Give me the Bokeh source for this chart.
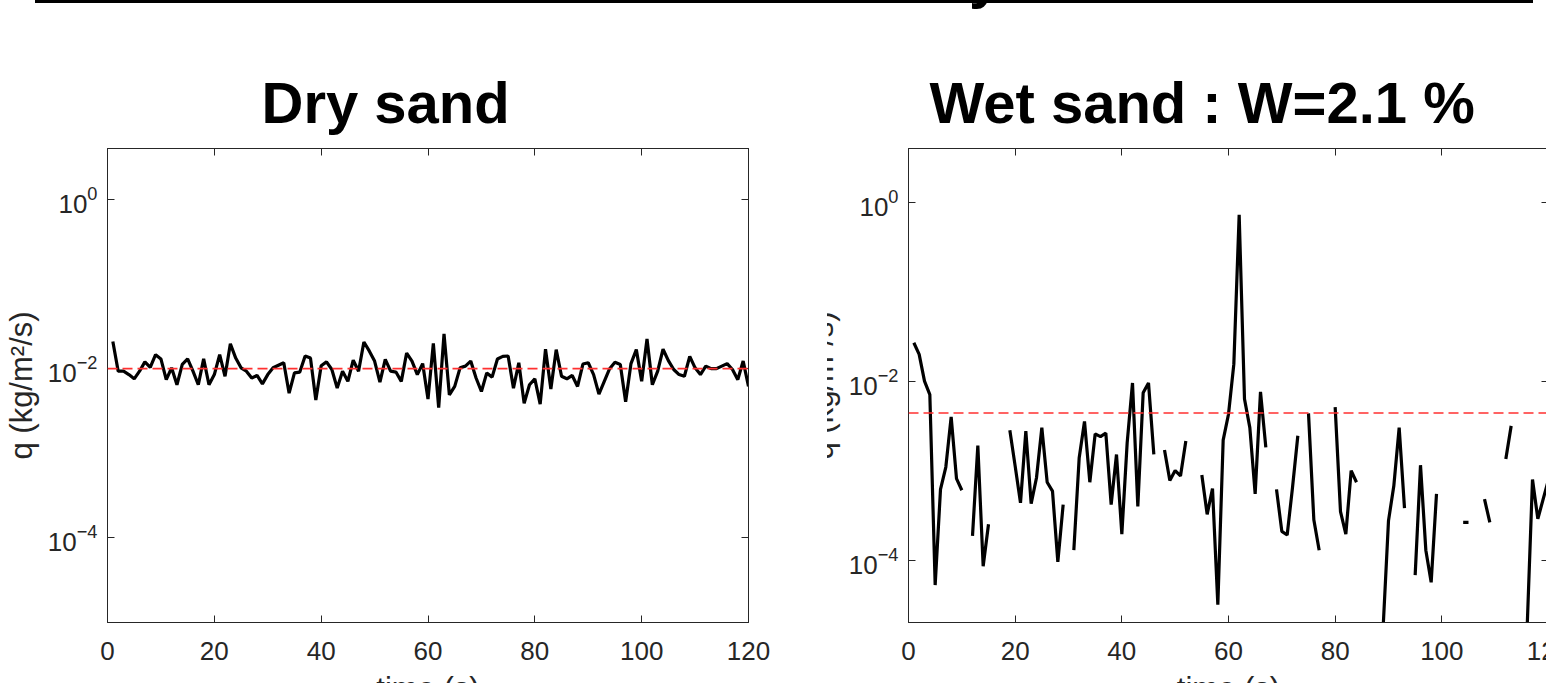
import math
from bokeh.embed import file_html
from bokeh.layouts import column, row
from bokeh.models import (Div, FixedTicker, GlobalInlineStyleSheet, LinearAxis, LogAxis,
                          Range1d, Span)
from bokeh.plotting import figure
from bokeh.resources import INLINE

# ---------------- data ----------------
time_s = list(range(1, 121))

# log10 of q (kg/m^2/s), dry sand, t = 1..120
dry_log10_q = [
    -1.68, -2.03, -2.03, -2.07, -2.12, -2.03, -1.92, -1.985, -1.835, -1.885,
    -2.13, -1.99, -2.19, -1.95, -1.885, -2.03, -2.19, -1.885, -2.19, -2.07,
    -1.835, -2.09, -1.705, -1.875, -1.99, -2.03, -2.11, -2.08, -2.18, -2.07,
    -1.99, -1.96, -1.93, -2.29, -2.05, -2.04, -1.85, -1.875, -2.37, -1.965,
    -1.92, -2.01, -2.23, -2.03, -2.15, -1.90, -2.03, -1.685, -1.79, -1.91,
    -2.16, -1.89, -2.03, -2.04, -2.15, -1.815, -1.91, -2.07, -1.94, -2.36,
    -1.70, -2.46, -1.59, -2.31, -2.21, -1.99, -1.97, -1.91, -2.11, -2.27,
    -2.05, -2.10, -1.885, -1.855, -1.85, -2.23, -1.93, -2.41, -2.19, -2.12,
    -2.42, -1.77, -2.24, -1.775, -2.09, -2.12, -2.08, -2.21, -1.945, -1.93,
    -2.07, -2.30, -2.15, -2.00, -1.925, -1.95, -2.39, -1.94, -1.775, -2.15,
    -1.65, -2.19, -2.03, -1.77, -1.905, -2.01, -2.07, -2.09, -1.855, -1.99,
    -2.07, -1.97, -2.00, -2.00, -1.97, -1.94, -2.01, -2.13, -1.91, -2.21,
]

# log10 of q, wet sand (W = 2.1 %), t = 1..120 ; None = no transport (gap)
N = None
wet_log10_q = [
    -1.57, -1.70, -2.00, -2.15, -4.28, -3.21, -2.96, -2.40, -3.09, -3.22,
    N, -3.73, -2.72, -4.07, -3.60, N, N, N, -2.55, -2.95,
    -3.36, -2.56, -3.37, -3.08, -2.52, -3.13, -3.23, -4.02, -3.38, N,
    -3.89, -2.86, -2.45, -3.13, -2.59, -2.62, -2.58, -3.38, -2.82, -3.71,
    -2.69, -2.02, -3.40, -2.13, -2.02, -2.82, N, -2.77, -3.11, -3.00,
    -3.06, -2.67, N, N, -3.05, -3.49, -3.20, -4.50, -2.66, -2.37,
    -1.81, -0.14, -2.20, -2.52, -3.26, -2.12, -2.74, N, -3.21, -3.68,
    -3.72, -3.19, -2.61, N, -2.36, -3.55, -3.89, N, N, -2.29,
    -3.46, -3.71, -3.00, -3.13, N, N, N, N, -4.75, -3.56,
    -3.17, -2.52, -3.42, N, -4.17, -2.94, -3.89, -4.25, -3.26, N,
    N, N, N, -3.58, -3.58, N, N, -3.32, -3.58, N,
    N, -2.87, -2.50, N, N, -4.75, -3.10, -3.54, -3.32, -3.10,
]

dry_mean_q = 1.0e-2
wet_mean_q = 4.4e-3

x_ticks = [0, 20, 40, 60, 80, 100, 120]
y_ticks = [1e-4, 1e-2, 1e0]
titles = ["Dry sand", "Wet sand : W=2.1 %"]
x_label = "time (s)"
y_label = "q (kg/m²/s)"
x_limits = (0, 120)
dry_y_limits = (1e-5, 4.0)
wet_y_limits = (2e-5, 4.0)

# ---------------- styling ----------------
FONT = "Liberation Sans"
AX = "#262626"


def to_q(logs):
    return [10 ** v if v is not None else float("nan") for v in logs]


def style_axis(a, ticks, labels=True, standoff=10):
    a.ticker = FixedTicker(ticks=ticks)
    a.major_tick_in = 7
    a.major_tick_out = 0
    a.minor_tick_in = 0
    a.minor_tick_out = 0
    a.minor_tick_line_color = None
    a.axis_line_color = AX
    a.axis_line_width = 1
    a.major_tick_line_color = AX
    a.major_tick_line_width = 1
    a.major_label_text_font = FONT
    if labels:
        a.major_label_text_color = AX
        a.major_label_text_font_size = "26px"
        a.major_label_standoff = standoff
    else:
        a.major_label_text_color = None
        a.major_label_text_font_size = "1px"
        a.major_label_standoff = 0


def make_panel(title, title_offset, q, mean_q, ylim, frame_w, border_l, border_r):
    p = figure(
        frame_width=frame_w, frame_height=474,
        min_border_left=border_l, min_border_right=border_r,
        min_border_top=136, min_border_bottom=40,
        x_range=Range1d(*x_limits), y_range=Range1d(*ylim),
        y_axis_type="log", output_backend="svg", toolbar_location=None,
        title=title,
    )
    p.background_fill_color = "white"
    p.border_fill_color = "white"
    p.outline_line_color = AX
    p.outline_line_width = 1
    p.grid.visible = False

    p.title.align = "left"
    p.title.offset = title_offset
    p.title.text_font = FONT
    p.title.text_font_size = "58px"
    p.title.text_font_style = "bold"
    p.title.text_color = "black"
    p.title.standoff = 27

    xa = p.xaxis[0]
    style_axis(xa, x_ticks, True, 19)
    xa.axis_label = x_label
    xa.axis_label_text_font = FONT
    xa.axis_label_text_font_size = "31px"
    xa.axis_label_text_font_style = "normal"
    xa.axis_label_text_color = AX
    xa.axis_label_standoff = 8

    ya = p.yaxis[0]
    style_axis(ya, y_ticks, True, 10)
    ya.axis_label = y_label
    ya.axis_label_text_font = FONT
    ya.axis_label_text_font_size = "31px"
    ya.axis_label_text_font_style = "normal"
    ya.axis_label_text_color = AX
    ya.axis_label_standoff = 6

    top = LinearAxis()
    style_axis(top, x_ticks, False)
    p.add_layout(top, "above")
    right = LogAxis()
    style_axis(right, y_ticks, False)
    p.add_layout(right, "right")

    p.line(time_s, q, line_color="black", line_width=3.2)
    p.add_layout(Span(location=mean_q, dimension="width", line_color="#ff3030",
                      line_width=1.6, line_dash="10 5"))
    return p


p1 = make_panel(titles[0], 154, to_q(dry_log10_q), dry_mean_q, dry_y_limits, 641, 107, 79)
p2 = make_panel(titles[1], 21, to_q(wet_log10_q), wet_mean_q, wet_y_limits, 640, 108, 30)

p1.styles = {"z-index": "2"}
p2.margin = (0, 0, 0, -27)

top_html = (
    '<div style="position:relative;width:1546px;height:12px;overflow:hidden;">'
    '<div style="position:absolute;left:35px;top:0px;width:1498px;height:3px;background:#000;"></div>'
    '<span style="position:absolute;left:969px;top:-52px;font-family:\'Liberation Sans\';'
    'font-weight:bold;font-size:58px;line-height:58px;color:#000;">y</span>'
    '</div>'
)
header = Div(text=top_html, width=1546, height=12, margin=(0, 0, 0, 0))

figs = row(p1, p2)
page = column(header, figs)
page.stylesheets = [GlobalInlineStyleSheet(css="html, body { overflow: hidden; margin: 0; }")]

open("out.html", "w").write(file_html(page, INLINE))
